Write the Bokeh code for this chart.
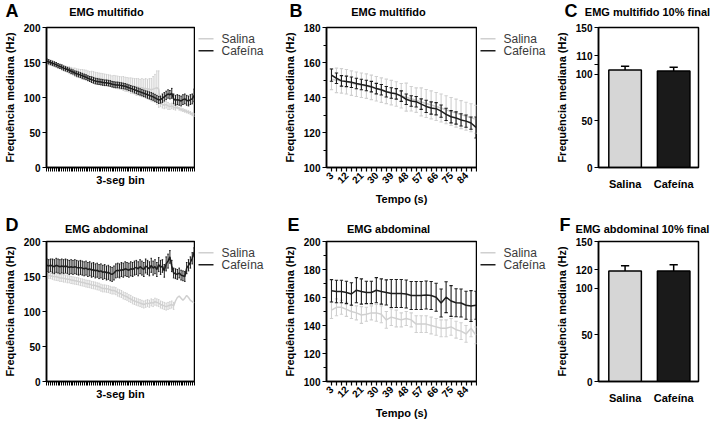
from bokeh.plotting import figure
from bokeh.layouts import row, column
from bokeh.models import FixedTicker, SingleIntervalTicker, Range1d
from bokeh.core.properties import value
from bokeh.embed import file_html
from bokeh.resources import INLINE

FONT = "Liberation Sans"
GRAY = "#d0d0d0"
BLACK = "#1e1e1e"
BAR_GRAY = "#d6d6d6"
BAR_BLACK = "#1a1a1a"

# ---------------- data ----------------
bins = list(range(1, 81))  # 3-seg bins

a_caf = [152, 151, 150, 149, 148, 147, 145.5, 144.5, 143.5, 142,
         141, 140, 139, 137.5, 136.5, 135, 134, 133, 132, 131,
         130, 129, 127.5, 126.5, 125.5, 124.5, 123.5, 123, 122.5, 122,
         121.5, 121, 121, 120.5, 120, 119, 118.5, 118, 118, 117.5,
         117, 116.5, 116, 115, 114, 113, 112, 111, 110, 109,
         108, 107, 106, 105, 104, 103, 102, 101, 99.5, 98,
         96.5, 97, 99, 101, 103, 105, 104, 106, 98, 96,
         97, 96, 95, 97, 98, 96, 95, 97, 98, 103]
a_caf_err = [3, 3, 3, 3, 3, 3, 3, 3, 3, 3,
             3, 3, 3, 3, 3, 3, 3.5, 3.5, 3.5, 3.5,
             3.5, 3.5, 3.5, 3.5, 4, 4, 4, 4, 4, 4,
             4, 4, 4, 4, 4, 4, 4, 4, 4, 4,
             4, 4, 4, 4, 4, 4, 4, 4.5, 4.5, 4.5,
             4.5, 4.5, 4.5, 4.5, 5, 5, 5, 5, 5, 5,
             5, 5, 6, 6, 6, 6, 6, 7, 7, 7,
             7, 7, 7, 7, 7, 7, 7, 7, 7, 9]
a_sal = [150, 149.5, 149, 148, 147, 146, 145, 144, 143, 142,
         141, 140, 139, 138, 137, 136, 135, 134.5, 134, 133,
         132.5, 132, 131, 130, 129.5, 129, 128, 127.5, 127, 126.5,
         126, 125.5, 125, 124.5, 124, 123, 122.5, 122, 121.5, 121,
         120.5, 120, 119, 118.5, 118, 117, 116.5, 116, 115, 115,
         114, 114, 113, 113, 112, 112, 111, 112, 113, 114,
         112, 92, 90, 89, 90, 88, 87, 88, 86, 85,
         86, 84, 83, 82, 81, 80, 79, 78, 76, 75]
a_sal_err = [3, 3, 3, 3, 3, 3, 3, 3, 4, 4,
             4, 4, 5, 5, 5, 6, 6, 6, 6, 7,
             7, 7, 7, 7, 8, 8, 8, 8, 8, 8,
             8, 8, 8, 8, 8, 8, 9, 9, 9, 9,
             9, 10, 10, 10, 10, 11, 11, 11, 12, 12,
             12, 13, 13, 14, 14, 15, 16, 18, 20, 24,
             26, 5, 5, 5, 5, 5, 4, 4, 3, 3,
             2, 2, 2, 2, 2, 2, 2, 2, 2, 2]

d_caf = [166, 165, 166, 165, 164, 166, 165, 164, 165, 164,
         165, 164, 163, 164, 163, 164, 163, 162, 163, 162,
         161, 162, 160, 161, 159, 160, 158, 159, 157, 158,
         156, 157, 155, 156, 154, 153, 155, 158, 159, 158,
         160, 159, 161, 160, 159, 161, 160, 162, 163, 161,
         164, 162, 160, 165, 163, 161, 166, 162, 164, 160,
         167, 163, 165, 158, 168, 172, 178, 165, 155, 154,
         153, 155, 152, 151, 150, 162, 166, 170, 176, 185]
d_caf_err = [9, 9, 9, 10, 10, 10, 10, 10, 10, 10,
             10, 10, 10, 10, 10, 10, 10, 10, 10, 10,
             10, 10, 10, 10, 10, 10, 10, 10, 10, 10,
             10, 10, 10, 10, 10, 10, 10, 10, 10, 10,
             10, 10, 10, 10, 10, 10, 10, 10, 10, 10,
             10, 10, 10, 10, 10, 10, 10, 10, 10, 10,
             10, 10, 9, 9, 10, 10, 9, 8, 7, 7,
             7, 7, 7, 7, 7, 8, 8, 8, 8, 6]
d_sal = [152, 151.5, 151, 150, 150, 149.5, 149, 148, 148, 147,
         147, 146, 146, 145, 144.5, 144, 143.5, 143, 142, 141.5,
         141, 140, 139.5, 139, 138, 137.5, 137, 136, 135.5, 134,
         133, 133, 132.5, 132, 131, 130, 130, 129, 127, 126,
         125, 123, 122, 121, 119, 118, 116, 115, 114, 113,
         112, 111, 110, 111, 112, 111, 113, 112, 114, 113,
         112, 110, 109, 108, 107, 108, 109, 110, 108, 115,
         120, 122, 119, 116, 119, 123, 120, 116, 114, 112]
d_sal_err = [4, 4, 4, 4, 5, 5, 5, 5, 5, 5,
             5, 5, 5, 5, 5, 5, 5, 5, 5, 5,
             5, 5, 5, 5, 5, 5, 5, 5, 5, 5,
             5, 5, 5, 5, 5, 5, 5, 5, 5, 5,
             5, 5, 5, 5, 5, 5, 5, 5, 5, 5,
             5, 5, 5, 5, 5, 5, 5, 5, 5, 5,
             5, 5, 5, 5, 5, 5, 5, 5, 5, 0,
             0, 0, 0, 0, 0, 0, 0, 0, 0, 0]

tempo = [3, 6, 9, 12, 15, 18, 21, 24, 27, 30,
         33, 36, 39, 42, 45, 48, 51, 54, 57, 60,
         63, 66, 69, 72, 75, 78, 81, 84, 87, 90]
tempo_labels = [3, 12, 21, 30, 39, 48, 57, 66, 75, 84]

b_caf = [152.8, 151, 149.5, 149.2, 148.7, 148, 147.4, 146.9, 146.2, 145.1,
         144.4, 143.3, 142.6, 142.1, 140.8, 139, 138, 137.6, 136.2, 134.9,
         134, 133.6, 132.2, 130.4, 129, 128.3, 127.2, 126.5, 125.4, 122.9]
b_caf_err = [3.5, 3, 3, 3, 3, 3, 3, 3, 3, 3,
             3, 3, 3, 3, 3, 3, 3, 3, 3, 3.5,
             3.5, 3.5, 3.5, 3.5, 3.5, 3.5, 3.5, 3.5, 3.5, 6]
b_sal = [150.5, 149.8, 149.5, 149, 148.2, 147.6, 147, 146.5, 145.8, 145,
         144.2, 143.5, 142.8, 142, 141, 140.2, 139.3, 138.5, 137.5, 136.6,
         135.8, 134.9, 134, 133, 132, 131.1, 130.2, 129.3, 128.4, 127.5]
b_sal_err = [6, 7, 7, 7, 7, 7, 7, 7, 7, 7,
             7, 7, 7, 7, 7, 8, 7, 7, 8, 8,
             8, 8, 8, 8, 8, 8, 8, 8, 8, 8]

e_caf = [164.8, 164.3, 164.3, 163.6, 162.5, 165.2, 164.3, 163.6, 163.6, 165.2,
         164.3, 163.6, 162.9, 162.9, 162.9, 162.5, 161.4, 161.4, 161.4, 161.8,
         161.4, 160.2, 156.1, 160.2, 157.5, 156.3, 156.1, 154.5, 153.9, 154.5]
e_caf_err = [8, 8, 8, 8, 8, 9, 9, 8, 8, 9,
             9, 9, 10, 10, 10, 10, 10, 10, 10, 10,
             10, 10, 10, 11, 11, 10, 10, 10, 11, 10]
e_sal = [151, 153, 153, 151.5, 150, 149, 147.5, 148, 149, 149,
         148, 144, 146, 145, 144, 145, 144, 141, 141, 141,
         140, 139, 138, 138, 139, 137, 136, 134, 138, 133]
e_sal_err = [6, 6, 5, 5, 5, 5, 6, 5, 5, 6,
             6, 6, 6, 6, 5, 5, 5, 6, 6, 6,
             6, 6, 6, 6, 6, 6, 6, 6, 6, 6]

groups = ["Salina", "Cafeína"]
group_colors = [GRAY, BLACK]
c_vals = [104.5, 103.5]
c_err = [4, 4]
f_vals = [118.5, 118.5]
f_err = [5.5, 6.5]

top_letters = ["A", "B", "C"]
top_titles = ["EMG multifido", "EMG multifido", "EMG multifido 10% final"]
bot_letters = ["D", "E", "F"]
bot_titles = ["EMG abdominal", "EMG abdominal", "EMG abdominal 10% final"]

# ---------------- layout constants ----------------
HDR1_H, HDR2_H = 21, 27
BT, BB = 6, 37
FRAME_H = 144
PLOT_H = BT + FRAME_H + BB
W_A, W_LA, W_B, W_LB, W_C = 195, 71, 211, 75, 158
TOTAL_W = W_A + W_LA + W_B + W_LB + W_C


def bare(width, height):
    f = figure(width=width, height=height, x_range=Range1d(0, width),
               y_range=Range1d(0, height), x_axis_type=None, y_axis_type=None,
               output_backend="svg", toolbar_location=None,
               min_border_left=0, min_border_right=0,
               min_border_top=0, min_border_bottom=0)
    f.title.visible = False
    f.outline_line_color = None
    return f


def header(height, letters, letter_x, titles, title_x, title_y):
    h = bare(TOTAL_W, height)
    h.text(x=letter_x, y=[10.5, 10.5, 10.5], text=letters,
           text_font=value(FONT), text_font_size="18px",
           text_font_style="bold", text_baseline="middle",
           text_align="left", text_color="black")
    h.text(x=title_x, y=[title_y] * 3, text=titles,
           text_font=value(FONT), text_font_size="11px",
           text_font_style="bold", text_baseline="middle",
           text_align="center", text_color="black")
    return h


def legend_fig(width):
    f = bare(width, PLOT_H)
    y_rows = [PLOT_H - BT - 9, PLOT_H - BT - 25]   # row centres (px from bottom)
    f.segment(x0=[3, 3], y0=y_rows, x1=[18, 18], y1=y_rows,
              line_color=group_colors, line_width=1.5)
    f.text(x=[26, 26], y=y_rows, text=groups,
           text_font=value(FONT), text_font_size="12px",
           text_baseline="middle", text_align="left", text_color="#3a3a3a")
    return f


def make(width, bl, br, x_range, y_range):
    p = figure(width=width, height=PLOT_H, x_range=x_range, y_range=y_range,
               output_backend="svg", toolbar_location=None,
               min_border_left=bl, min_border_right=br,
               min_border_top=BT, min_border_bottom=BB)
    p.title.visible = False
    p.grid.visible = False
    p.outline_line_color = "black"
    p.outline_line_width = 1.5
    p.outline_line_alpha = 1
    p.background_fill_color = "white"
    p.border_fill_color = "white"
    for ax in p.axis:
        ax.axis_line_width = 1.5
        ax.axis_line_color = "black"
        ax.major_tick_line_width = 1.2
        ax.major_tick_line_color = "black"
        ax.major_tick_in = 0
        ax.major_tick_out = 4
        ax.minor_tick_in = 0
        ax.minor_tick_out = 0
        ax.major_label_text_font = FONT
        ax.major_label_text_font_size = "10px"
        ax.major_label_text_font_style = "bold"
        ax.major_label_text_color = "black"
        ax.major_label_standoff = 2
        ax.axis_label_text_font = FONT
        ax.axis_label_text_font_size = "11px"
        ax.axis_label_text_font_style = "bold"
        ax.axis_label_text_color = "black"
        ax.axis_label_standoff = 5
    p.yaxis.axis_label = "Frequência mediana (Hz)"
    return p


def err_bars(p, x, m, e, color, cap, width=1.1, lower=True):
    xs = [a for a, b in zip(x, e) if b > 0]
    ms = [a for a, b in zip(m, e) if b > 0]
    es = [b for b in e if b > 0]
    hi = [a + b for a, b in zip(ms, es)]
    lo = [a - b for a, b in zip(ms, es)] if lower else ms
    p.segment(x0=xs, y0=lo, x1=xs, y1=hi, line_color=color, line_width=width)
    p.segment(x0=[v - cap for v in xs], y0=hi, x1=[v + cap for v in xs], y1=hi,
              line_color=color, line_width=width)
    if lower:
        p.segment(x0=[v - cap for v in xs], y0=lo, x1=[v + cap for v in xs], y1=lo,
                  line_color=color, line_width=width)


def bin_panel(sal, sal_e, caf, caf_e):
    p = make(W_A, 45, W_A - 45 - 149, Range1d(0.8, 80.2), Range1d(0, 200))
    err_bars(p, bins, sal, sal_e, GRAY, 0.4, width=1.0)
    p.line(bins, sal, line_color=GRAY, line_width=1.5)
    err_bars(p, bins, caf, caf_e, BLACK, 0.4, width=1.0)
    p.line(bins, caf, line_color=BLACK, line_width=1.5)
    p.yaxis.ticker = FixedTicker(ticks=[0, 50, 100, 150, 200])
    p.xaxis.ticker = FixedTicker(ticks=bins)
    p.xaxis.major_label_overrides = {b: "" for b in bins}
    p.xaxis.major_label_text_font_size = "0px"
    p.xaxis.major_label_standoff = 0
    p.xaxis.major_tick_line_width = 1.0
    p.xaxis.axis_label = "3-seg bin"
    p.xaxis.axis_label_standoff = 2
    return p


def time_panel(y0, y1, sal, sal_e, caf, caf_e):
    p = make(W_B, 60, W_B - 60 - 150, Range1d(0, 90.3), Range1d(y0, y1))
    err_bars(p, tempo, sal, sal_e, GRAY, 1.0)
    p.line(tempo, sal, line_color=GRAY, line_width=1.5)
    err_bars(p, tempo, caf, caf_e, BLACK, 1.0)
    p.line(tempo, caf, line_color=BLACK, line_width=1.5)
    p.yaxis.ticker = SingleIntervalTicker(interval=20, num_minor_ticks=2)
    p.yaxis.minor_tick_out = 3
    p.yaxis.minor_tick_line_width = 1.2
    p.yaxis.minor_tick_line_color = "black"
    p.xaxis.ticker = FixedTicker(ticks=tempo)
    p.xaxis.major_label_overrides = {t: (str(t) if t in tempo_labels else "")
                                     for t in tempo}
    p.xaxis.major_label_orientation = 0.785
    p.xaxis.axis_label = "Tempo (s)"
    p.xaxis.axis_label_standoff = 3
    return p


def bar_panel(vals, errs, ticks, overrides):
    p = make(W_C, 44, W_C - 44 - 102, Range1d(-0.547, 1.511), Range1d(0, 150))
    xs = [0, 1]
    p.vbar(x=xs, top=vals, width=0.67, bottom=0,
           fill_color=[BAR_GRAY, BAR_BLACK], line_color="black", line_width=1.5)
    err_bars(p, xs, vals, errs, "black", 0.085, width=1.5, lower=False)
    p.yaxis.ticker = FixedTicker(ticks=ticks)
    p.yaxis.major_label_overrides = overrides
    p.xaxis.ticker = FixedTicker(ticks=xs)
    p.xaxis.major_label_overrides = {0: groups[0], 1: groups[1]}
    p.xaxis.major_tick_line_color = None
    p.xaxis.major_label_text_font_size = "11px"
    p.xaxis.major_label_standoff = 6
    return p


hdr_top = header(HDR1_H, top_letters, [5, 289, 564], top_titles,
                 [106, 388, 647], 10)
hdr_bot = header(HDR2_H, bot_letters, [5, 287, 559], bot_titles,
                 [106, 388, 642], 7)

pA = bin_panel(a_sal, a_sal_err, a_caf, a_caf_err)
pB = time_panel(100, 180, b_sal, b_sal_err, b_caf, b_caf_err)
pC = bar_panel(c_vals, c_err, [0, 50, 100, 110, 120, 150], {110: "", 120: "110"})

pD = bin_panel(d_sal, d_sal_err, d_caf, d_caf_err)
pE = time_panel(100, 200, e_sal, e_sal_err, e_caf, e_caf_err)
pF = bar_panel(f_vals, f_err, [0, 50, 100, 120, 150], {})

layout = column(hdr_top,
                row(pA, legend_fig(W_LA), pB, legend_fig(W_LB), pC),
                hdr_bot,
                row(pD, legend_fig(W_LA), pE, legend_fig(W_LB), pF))

open("out.html", "w").write(file_html(layout, INLINE))
